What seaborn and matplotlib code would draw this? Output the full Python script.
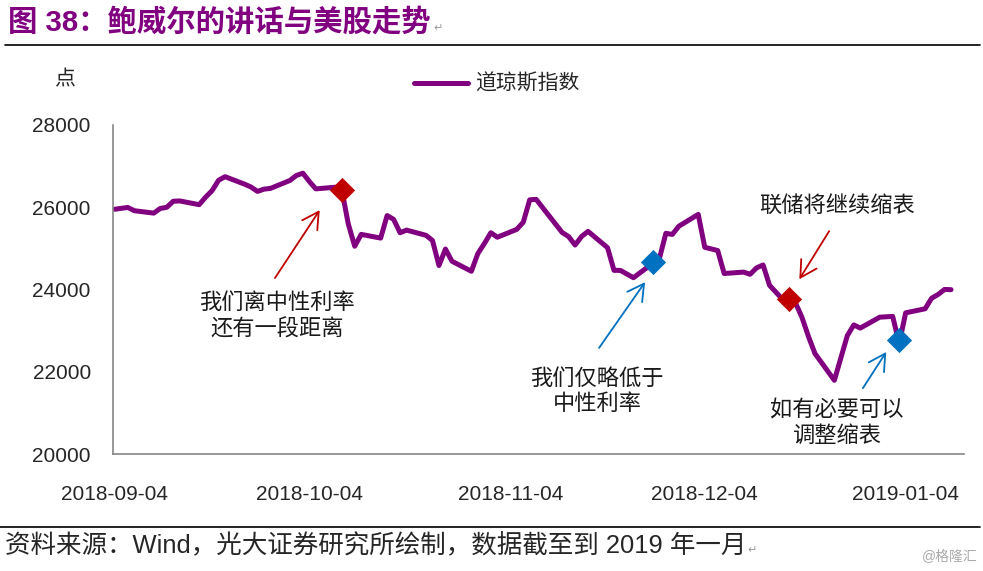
import pandas as pd
import numpy as np
import seaborn as sns
import matplotlib.pyplot as plt
import matplotlib.dates as mdates
from matplotlib.lines import Line2D

# Dow Jones closes
dates = ['2018-09-04', '2018-09-05', '2018-09-06', '2018-09-07', '2018-09-10', '2018-09-11',
         '2018-09-12', '2018-09-13', '2018-09-14', '2018-09-17', '2018-09-18', '2018-09-19',
         '2018-09-20', '2018-09-21', '2018-09-24', '2018-09-25', '2018-09-26', '2018-09-27',
         '2018-09-28', '2018-10-01', '2018-10-02', '2018-10-03', '2018-10-04', '2018-10-05',
         '2018-10-08', '2018-10-09', '2018-10-10', '2018-10-11', '2018-10-12', '2018-10-15',
         '2018-10-16', '2018-10-17', '2018-10-18', '2018-10-19', '2018-10-22', '2018-10-23',
         '2018-10-24', '2018-10-25', '2018-10-26', '2018-10-29', '2018-10-30', '2018-10-31',
         '2018-11-01', '2018-11-02', '2018-11-05', '2018-11-06', '2018-11-07', '2018-11-08',
         '2018-11-09', '2018-11-12', '2018-11-13', '2018-11-14', '2018-11-15', '2018-11-16',
         '2018-11-19', '2018-11-20', '2018-11-21', '2018-11-23', '2018-11-26', '2018-11-27',
         '2018-11-28', '2018-11-29', '2018-11-30', '2018-12-03', '2018-12-04', '2018-12-06',
         '2018-12-07', '2018-12-10', '2018-12-11', '2018-12-12', '2018-12-13', '2018-12-14',
         '2018-12-17', '2018-12-18', '2018-12-19', '2018-12-20', '2018-12-21', '2018-12-24',
         '2018-12-26', '2018-12-27', '2018-12-28', '2018-12-31', '2019-01-02', '2019-01-03',
         '2019-01-04', '2019-01-07', '2019-01-08', '2019-01-09', '2019-01-10', '2019-01-11']
dow_close = [25952, 25974, 25995, 25916, 25857, 25971,
             25998, 26145, 26154, 26062, 26246, 26405,
             26657, 26743, 26562, 26492, 26385, 26440,
             26458, 26651, 26773, 26828, 26627, 26447,
             26487, 26430, 25599, 25052, 25340, 25250,
             25798, 25706, 25380, 25444, 25317, 25191,
             24583, 24984, 24688, 24443, 24875, 25116,
             25380, 25271, 25462, 25635, 26181, 26191,
             25989, 25387, 25287, 25081, 25290, 25413,
             25018, 24466, 24464, 24286, 24640, 24748,
             25366, 25339, 25538, 25826, 25027, 24947,
             24389, 24423, 24370, 24527, 24597, 24101,
             23592, 23675, 23324, 22859, 22445, 21792,
             22878, 23139, 23062, 23327, 23346, 22686,
             23433, 23531, 23787, 23879, 24001, 23996]

# highlighted points (diamonds)
red_dates = ['2018-10-09', '2018-12-17']
red_values = [26420, 23760]
blue_dates = ['2018-11-26', '2019-01-03']
blue_values = [24660, 22780]

tick_dates = ['2018-09-04', '2018-10-04', '2018-11-04', '2018-12-04', '2019-01-04']
y_ticks = [20000, 22000, 24000, 26000, 28000]

df = pd.DataFrame({'date': pd.to_datetime(dates), 'close': dow_close})
red_pts = pd.DataFrame({'date': pd.to_datetime(red_dates), 'close': red_values})
blue_pts = pd.DataFrame({'date': pd.to_datetime(blue_dates), 'close': blue_values})

sns.set_style('white')
plt.rcParams['font.family'] = ['Liberation Sans', 'Noto Sans CJK SC', 'DejaVu Sans']

PURPLE = '#800080'
RED = '#C00000'
BLUE = '#0070C0'

fig = plt.figure(figsize=(9.83, 5.71), dpi=100)
ax = fig.add_axes([113 / 983, 1 - 454 / 571, (964 - 113) / 983, (454 - 125) / 571])

sns.lineplot(data=df, x='date', y='close', color=PURPLE, lw=3.6, ax=ax,
             label='道琼斯指数', zorder=2)
sns.scatterplot(data=red_pts, x='date', y='close', marker='D', s=165, color=RED,
                edgecolor=RED, linewidth=0, ax=ax, legend=False, zorder=3)
sns.scatterplot(data=blue_pts, x='date', y='close', marker='D', s=165, color=BLUE,
                edgecolor=BLUE, linewidth=0, ax=ax, legend=False, zorder=3)

start = pd.Timestamp('2018-09-04')
ax.set_xlim(start - pd.Timedelta(hours=7), pd.Timestamp('2019-01-13'))
ax.set_ylim(20000, 28000)
ax.set_yticks(y_ticks)
ax.set_xticks(pd.to_datetime(tick_dates))
ax.xaxis.set_major_formatter(mdates.DateFormatter('%Y-%m-%d'))
ax.set_xlabel('')
ax.set_ylabel('')
ax.tick_params(axis='y', direction='in', length=4, width=1.1, color='#868686',
               labelsize=15, pad=16)
ax.tick_params(axis='x', direction='in', length=4, width=1.1, color='#868686',
               labelsize=15, pad=22)

for side in ['top', 'right']:
    ax.spines[side].set_visible(False)
for side in ['left', 'bottom']:
    ax.spines[side].set_color('#868686')
    ax.spines[side].set_linewidth(1.2)

ax.legend(loc='center', bbox_to_anchor=(497 / 983, 1 - 84 / 571), bbox_transform=fig.transFigure,
          frameon=False, fontsize=15, handlelength=2.6, handletextpad=0.35)


def at(days, value):
    return (start + pd.Timedelta(days=days), value)


arrow_kw = dict(arrowstyle='->,head_length=0.45,head_width=0.25', lw=1.3,
                mutation_scale=26, shrinkA=0, shrinkB=0)
ax.annotate('', xy=at(31.6, 25930), xytext=at(24.7, 24280),
            arrowprops=dict(color=RED, **arrow_kw))
ax.annotate('', xy=at(105.6, 24250), xytext=at(110.2, 25420),
            arrowprops=dict(color=RED, **arrow_kw))
ax.annotate('', xy=at(81.8, 24180), xytext=at(74.7, 22580),
            arrowprops=dict(color=BLUE, **arrow_kw))
ax.annotate('', xy=at(119.0, 22480), xytext=at(115.4, 21600),
            arrowprops=dict(color=BLUE, **arrow_kw))

note_kw = dict(ha='center', va='center', fontsize=16, linespacing=1.3, color='#1a1a1a')
ax.text(*at(25.0, 23330), '我们离中性利率\n还有一段距离', **note_kw)
ax.text(*at(74.4, 21510), '我们仅略低于\n中性利率', **note_kw)
ax.text(*at(111.4, 26030), '联储将继续缩表', **note_kw)
ax.text(*at(111.3, 20730), '如有必要可以\n调整缩表', **note_kw)

fig.text(65 / 983, 1 - 80 / 571, '点', ha='center', va='center', fontsize=15)

# title, rules and source
fig.text(8 / 983, 1 - 22 / 571, '图 38：鲍威尔的讲话与美股走势', color=PURPLE,
         fontsize=21.2, fontweight='bold', va='center', ha='left')
fig.text(433 / 983, 1 - 28 / 571, '↵', color='#999999', fontsize=8, va='center')
fig.add_artist(Line2D([5 / 983, 980 / 983], [1 - 45 / 571] * 2, color='black', lw=1.2))
fig.add_artist(Line2D([0, 980 / 983], [1 - 527 / 571] * 2, color='black', lw=1.2))
fig.text(5 / 983, 1 - 546 / 571, '资料来源：Wind，光大证券研究所绘制，数据截至到 2019 年一月',
         fontsize=18.4, va='center', ha='left')
fig.text(747 / 983, 1 - 550 / 571, '↵', color='#999999', fontsize=8, va='center')
fig.text(978 / 983, 1 - 557 / 571, '@格隆汇', color='#aaaaaa', fontsize=10,
         va='center', ha='right')

fig.savefig('out.png', dpi=100)
